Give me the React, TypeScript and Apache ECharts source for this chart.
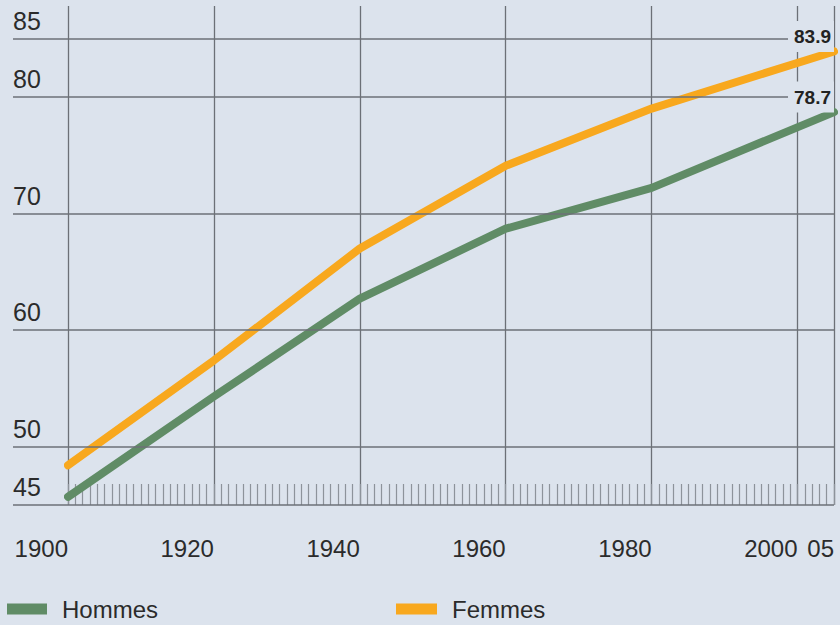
import React, { useEffect, useRef } from "react";
import * as echarts from "echarts";

const years = [1900, 1920, 1940, 1960, 1980, 2005];
const hommes = [45.7, 54.3, 62.7, 68.7, 72.2, 78.7];
const femmes = [48.4, 57.4, 67.0, 74.1, 79.0, 83.9];
const yTickValues = [45, 50, 60, 70, 80, 85];
const xMin = 1900;
const xMax = 2005;
const xStep = 20;

const BG = "#dce3ed";
const GRID = "#6c7077";
const GREEN = "#608c66";
const ORANGE = "#f8a81e";
const FONT = "'Liberation Sans',Arial,Helvetica,sans-serif";

export default function App() {
  const ref = useRef<HTMLDivElement>(null);
  useEffect(() => {
    const chart = echarts.init(ref.current as HTMLDivElement, null, { renderer: "svg" });
    const yMin = 45;
    const yMax = 87.8;
    const last = years.length - 1;
    const endLabel = (txt: string) => ({
      show: true,
      position: "inside",
      offset: [-23, -15],
      fontSize: 19,
      fontWeight: "bold",
      color: "#222",
      fontFamily: FONT,
      backgroundColor: BG,
      padding: [6, 3, 6, 6],
      formatter: () => txt,
    });
    const option: any = {
      animation: false,
      backgroundColor: BG,
      textStyle: { fontFamily: FONT },
      grid: [
        { left: 68, right: 6, top: 6, bottom: 120 },
        { left: 13, right: 6, top: 6, bottom: 120 },
        { left: 68, right: 6, top: 6, bottom: 120 },
      ],
      xAxis: [
        {
          type: "value",
          gridIndex: 0,
          min: xMin,
          max: xMax,
          interval: xStep,
          axisLine: { show: false },
          axisTick: { show: false },
          splitLine: { show: true, lineStyle: { color: GRID, width: 1.3 } },
          axisLabel: {
            show: true,
            align: "right",
            margin: 31,
            fontSize: 24,
            color: "#2b2b2b",
            fontFamily: FONT,
            formatter: (v: number) => (v === xMax ? String(v).slice(2) : String(v)),
          },
        },
        {
          type: "value",
          gridIndex: 1,
          min: 0,
          max: 1,
          show: false,
        },
        {
          type: "value",
          gridIndex: 2,
          min: xMin,
          max: xMax,
          interval: 1,
          axisLine: { show: false },
          axisLabel: { show: false },
          splitLine: { show: false },
          axisTick: { show: true, inside: true, length: 21, lineStyle: { color: "#8d939b", width: 1.2 } },
        },
      ],
      yAxis: [
        {
          type: "value",
          gridIndex: 0,
          min: yMin,
          max: yMax,
          axisLine: { show: false },
          axisTick: { show: false },
          axisLabel: { show: false },
          splitLine: { show: false },
        },
        {
          type: "value",
          gridIndex: 1,
          min: yMin,
          max: yMax,
          axisLine: { show: false },
          axisTick: { show: false },
          splitLine: { show: false },
          axisLabel: {
            show: true,
            inside: true,
            customValues: yTickValues,
            align: "left",
            verticalAlign: "bottom",
            lineHeight: 36,
            margin: 0,
            fontSize: 25,
            color: "#2b2b2b",
            fontFamily: FONT,
          },
        },
        {
          type: "value",
          gridIndex: 2,
          min: yMin,
          max: yMax,
          show: false,
        },
      ],
      legend: [
        {
          left: 7,
          top: 597,
          padding: 0,
          icon: "rect",
          itemWidth: 40,
          itemHeight: 11,
          selectedMode: false,
          data: ["Hommes"],
          textStyle: { fontSize: 24, color: "#2b2b2b", fontFamily: FONT, padding: [0, 0, 0, 10] },
        },
        {
          left: 396,
          top: 597,
          padding: 0,
          icon: "rect",
          itemWidth: 41,
          itemHeight: 11,
          selectedMode: false,
          data: ["Femmes"],
          textStyle: { fontSize: 24, color: "#2b2b2b", fontFamily: FONT, padding: [0, 0, 0, 10] },
        },
      ],
      series: [
        {
          type: "line",
          name: "grille",
          xAxisIndex: 1,
          yAxisIndex: 1,
          data: [],
          z: 1,
          silent: true,
          markLine: {
            silent: true,
            symbol: "none",
            label: { show: false },
            lineStyle: { color: GRID, width: 1.6, type: "solid" },
            data: yTickValues.map((v) => ({ yAxis: v })),
          },
        },
        {
          type: "line",
          name: "Hommes",
          xAxisIndex: 0,
          yAxisIndex: 0,
          z: 3,
          clip: false,
          symbol: "none",
          color: GREEN,
          lineStyle: { color: GREEN, width: 8, cap: "round", join: "round" },
          data: years.map((y, i) => [y, hommes[i]]),
          markPoint: {
            symbol: "circle",
            symbolSize: 0,
            label: endLabel(hommes[last].toFixed(1)),
            data: [{ coord: [years[last], hommes[last]] }],
          },
        },
        {
          type: "line",
          name: "Femmes",
          xAxisIndex: 0,
          yAxisIndex: 0,
          z: 3,
          clip: false,
          symbol: "none",
          color: ORANGE,
          lineStyle: { color: ORANGE, width: 8, cap: "round", join: "round" },
          data: years.map((y, i) => [y, femmes[i]]),
          markPoint: {
            symbol: "circle",
            symbolSize: 0,
            label: endLabel(femmes[last].toFixed(1)),
            data: [{ coord: [years[last], femmes[last]] }],
          },
        },
      ],
    };
    chart.setOption(option);
    return () => chart.dispose();
  }, []);
  return (
    <div
      ref={ref}
      style={{ position: "fixed", left: 0, top: 0, width: 840, height: 625, background: BG }}
    />
  );
}
